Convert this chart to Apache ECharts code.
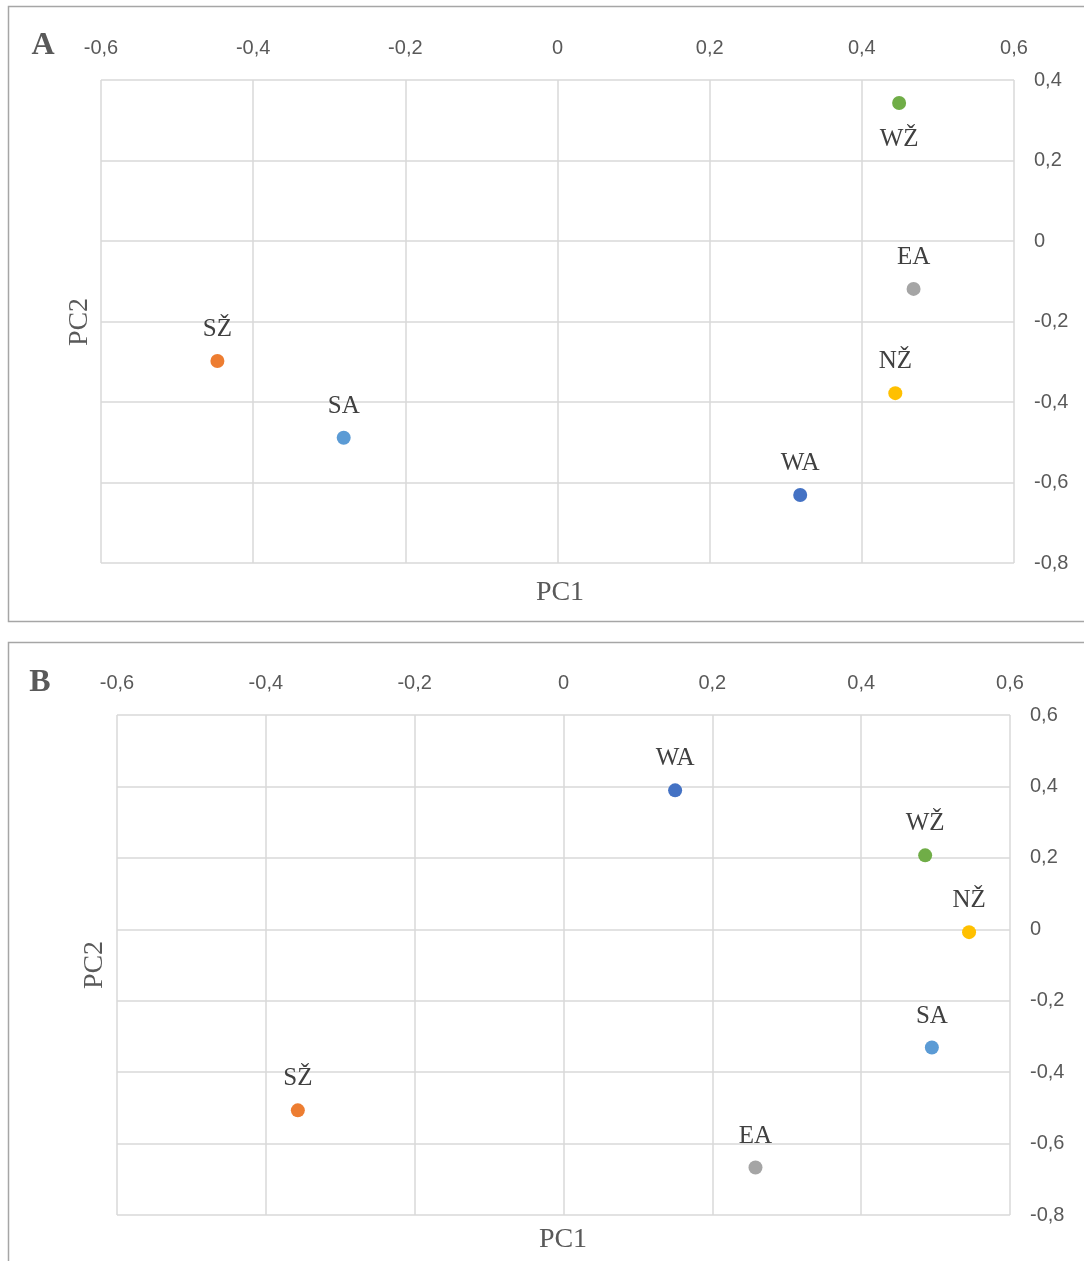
<!DOCTYPE html>
<html>
<head>
<meta charset="utf-8">
<script src="https://cdn.jsdelivr.net/npm/echarts@6/dist/echarts.min.js"></script>
<style>html,body{margin:0;padding:0;background:#fff}#c{width:1084px;height:1261px}</style>
</head>
<body>
<div id="c"></div>
<script>
// Panel A data
const namesA = ['WŽ', 'EA', 'NŽ', 'WA', 'SA', 'SŽ'];
const pc1A = [0.449, 0.468, 0.444, 0.319, -0.281, -0.447];
const pc2A = [0.343, -0.119, -0.378, -0.631, -0.489, -0.298];
// Panel B data
const namesB = ['WA', 'WŽ', 'NŽ', 'SA', 'SŽ', 'EA'];
const pc1B = [0.150, 0.486, 0.545, 0.495, -0.357, 0.258];
const pc2B = [0.389, 0.207, -0.008, -0.331, -0.507, -0.667];
// Axis ranges / ticks
const xTicks = [-0.6, -0.4, -0.2, 0, 0.2, 0.4, 0.6];
const yTicksA = [0.4, 0.2, 0, -0.2, -0.4, -0.6, -0.8];
const yTicksB = [0.6, 0.4, 0.2, 0, -0.2, -0.4, -0.6, -0.8];

const colorOf = {'WŽ': '#70AD47', 'EA': '#A5A5A5', 'NŽ': '#FFC000', 'WA': '#4472C4', 'SA': '#5B9BD5', 'SŽ': '#ED7D31'};
const belowA = {'WŽ': true};

const fmt = v => (Math.abs(v) < 1e-9 ? '0' : (+v.toFixed(1)).toString().replace('.', ','));
const tickFont = {color: '#595959', fontSize: 20, fontFamily: 'Liberation Sans, Arial, sans-serif'};

function xAxis(gi) {
  return {
    gridIndex: gi, type: 'value', position: 'top',
    min: xTicks[0], max: xTicks[xTicks.length - 1], interval: 0.2,
    axisLine: {show: false}, axisTick: {show: false},
    axisLabel: Object.assign({formatter: fmt, margin: 22}, tickFont),
    splitLine: {show: true, lineStyle: {color: '#D9D9D9', width: 1.5}}
  };
}
function yAxis(gi, ticks) {
  return {
    gridIndex: gi, type: 'value', position: 'right',
    min: ticks[ticks.length - 1], max: ticks[0], interval: 0.2,
    axisLine: {show: false}, axisTick: {show: false},
    axisLabel: Object.assign({formatter: fmt, margin: 20}, tickFont),
    splitLine: {show: true, lineStyle: {color: '#D9D9D9', width: 1.5}}
  };
}
function series(gi, names, xs, ys, below) {
  return {
    type: 'scatter', xAxisIndex: gi, yAxisIndex: gi, symbolSize: 14,
    data: names.map((n, i) => ({
      value: [xs[i], ys[i]], name: n,
      itemStyle: {color: colorOf[n], opacity: 1},
      label: (below && below[n]) ? {position: 'bottom', distance: 17} : {position: 'top'}
    })),
    label: {
      show: true, formatter: p => p.name, distance: 12,
      color: '#404040', fontSize: 25, fontFamily: 'Liberation Serif, Times New Roman, serif'
    },
    emphasis: {disabled: true}
  };
}
const serif = 'Liberation Serif, Times New Roman, serif';
function txt(x, y, t, size, rot, bold) {
  return {
    type: 'text', x: x, y: y, rotation: rot || 0,
    style: {text: t, fill: '#595959', fontSize: size, fontFamily: serif, fontWeight: bold ? 'bold' : 'normal',
      textAlign: 'center', textVerticalAlign: 'middle'}
  };
}

const chart = echarts.init(document.getElementById('c'), null, {renderer: 'canvas'});
chart.setOption({
  animation: false,
  grid: [
    {left: 101, top: 80, width: 913, height: 483},
    {left: 117, top: 715, width: 893, height: 500}
  ],
  xAxis: [xAxis(0), xAxis(1)],
  yAxis: [yAxis(0, yTicksA), yAxis(1, yTicksB)],
  series: [series(0, namesA, pc1A, pc2A, belowA), series(1, namesB, pc1B, pc2B, null)],
  graphic: [
    {type: 'rect', shape: {x: 8.5, y: 6.5, width: 1090, height: 615}, style: {fill: 'none', stroke: '#A6A6A6', lineWidth: 1.5}, silent: true},
    {type: 'rect', shape: {x: 8.5, y: 642.5, width: 1090, height: 640}, style: {fill: 'none', stroke: '#A6A6A6', lineWidth: 1.5}, silent: true},
    txt(43, 46, 'A', 32, 0, true),
    txt(40, 683, 'B', 32, 0, true),
    txt(560, 593, 'PC1', 28),
    txt(80, 322, 'PC2', 28, Math.PI / 2),
    txt(563, 1240, 'PC1', 28),
    txt(95, 965, 'PC2', 28, Math.PI / 2)
  ]
});
</script>
</body>
</html>
